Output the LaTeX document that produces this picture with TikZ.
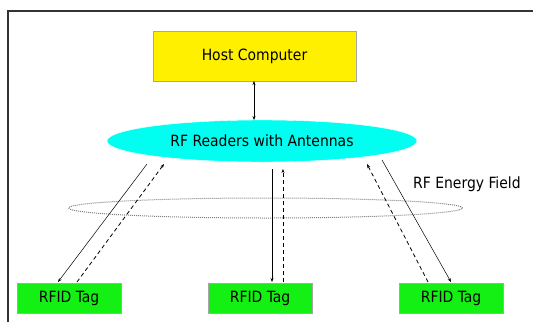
\documentclass[tikz,border=0pt]{standalone}
\usepackage{fontspec}
\setmainfont{DejaVu Sans Condensed}
\usetikzlibrary{shapes.geometric,arrows.meta}
\definecolor{hostyellow}{RGB}{255,240,0}
\definecolor{readercyan}{RGB}{0,255,240}
\definecolor{taggreen}{RGB}{20,240,20}
\begin{document}
\begin{tikzpicture}[x=1pt,y=-1pt,
  lbl/.style={font=\fontsize{15.5}{18}\selectfont},
  box/.style={lbl, draw=gray!70, line width=0.6pt, inner sep=0pt},
  tagbox/.style={box, fill=taggreen, minimum width=104pt, minimum height=30pt},
  lnk/.style={line width=0.5pt, -{Stealth[length=4pt,width=3pt]}},
  dlnk/.style={lnk, dash pattern=on 4pt off 3pt, line width=0.8pt}]
\useasboundingbox (0,0) rectangle (533,322);
\draw[line width=1.2pt, black!80] (8,322) -- (8,11) -- (533,11);
\node[box, fill=hostyellow, minimum width=203pt, minimum height=50pt] (host) at (254.5,56) {Host Computer};
\node[lbl, ellipse, fill=readercyan, draw=white, inner sep=0pt, minimum width=310pt, minimum height=42pt] (reader) at (262,141) {RF Readers with Antennas};
\node[ellipse, draw=gray, densely dotted, line width=1pt, minimum width=394pt, minimum height=20pt, inner sep=0pt] (field) at (265.5,208) {};
\node[lbl, anchor=west, inner sep=0pt] (fieldlbl) at (413,184) {RF Energy Field};
\node[tagbox] (tag1) at (69,298) {RFID Tag};
\node[tagbox] (tag2) at (260,298) {RFID Tag};
\node[tagbox] (tag3) at (451,298) {RFID Tag};
\coordinate (hb) at (254,81);
\coordinate (rt) at (254,120);
\draw[line width=0.5pt, {Stealth[length=4pt,width=3pt]}-{Stealth[length=4pt,width=3pt]}] (hb) -- (rt);
% left
\coordinate (l1a) at (147,164); \coordinate (l1b) at (58,282);
\coordinate (l2a) at (77,282); \coordinate (l2b) at (164,164);
\draw[lnk] (l1a) -- (l1b);
\draw[dlnk] (l2a) -- (l2b);
% middle
\coordinate (m1a) at (272,169); \coordinate (m1b) at (272,282);
\coordinate (m2a) at (283,282); \coordinate (m2b) at (283,169);
\draw[lnk] (m1a) -- (m1b);
\draw[dlnk] (m2a) -- (m2b);
% right
\coordinate (r1a) at (428,282); \coordinate (r1b) at (367,164);
\coordinate (r2a) at (382,160); \coordinate (r2b) at (451,282);
\draw[dlnk] (r1a) -- (r1b);
\draw[lnk] (r2a) -- (r2b);
\end{tikzpicture}
\end{document}
